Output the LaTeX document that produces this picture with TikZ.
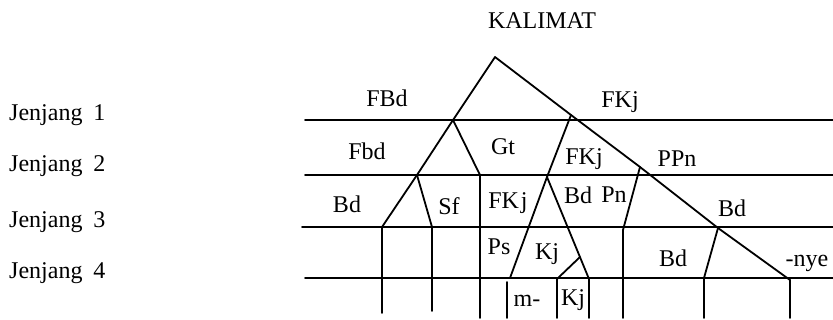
\documentclass[tikz,border=0pt]{standalone}
\usepackage{fontspec}
\setmainfont{Liberation Serif}
\begin{document}
\begin{tikzpicture}[x=1pt,y=-1pt,
  ln/.style={line width=1.8pt, line cap=round, line join=round},
  lbl/.style={anchor=base, inner sep=0pt, font=\fontsize{24}{28}\selectfont},
  lvl/.style={anchor=base west, inner sep=0pt, font=\fontsize{24}{28}\selectfont}]
\useasboundingbox (0,0) rectangle (833,320);
% title and level labels
\node[lbl] (title) at (542,29) {KALIMAT};
\node[lvl] (j1) at (9,121) {Jenjang\hspace{0.45em}1};
\node[lvl] (j2) at (9,172) {Jenjang\hspace{0.45em}2};
\node[lvl] (j3) at (9,228) {Jenjang\hspace{0.45em}3};
\node[lvl] (j4) at (9,279) {Jenjang\hspace{0.45em}4};
% horizontal level lines
\coordinate (h1a) at (305,120); \coordinate (h1b) at (833,120);
\coordinate (h2a) at (305,175); \coordinate (h2b) at (833,175);
\coordinate (h3a) at (302,227); \coordinate (h3b) at (833,227);
\coordinate (h4a) at (305,278); \coordinate (h4b) at (833,278);
\draw[ln] (h1a) -- (h1b);
\draw[ln] (h2a) -- (h2b);
\draw[ln] (h3a) -- (h3b);
\draw[ln] (h4a) -- (h4b);
% tree points
\coordinate (A) at (495,57);
\coordinate (L1) at (453,120);
\coordinate (L2) at (417,175);
\coordinate (L3) at (382,227);
\coordinate (M2) at (480,175);
\coordinate (S3) at (432,227);
\coordinate (R1) at (571,115);
\coordinate (R2) at (640,167);
\coordinate (R3) at (718,228);
\coordinate (E) at (790,280);
\coordinate (K2) at (547,177);
\coordinate (P4) at (510,278);
\coordinate (Q4) at (589,279);
\coordinate (T1) at (580,257);
\coordinate (T2) at (557,279);
\coordinate (N3) at (623,230);
\coordinate (T4) at (704,278);
\coordinate (V0) at (507,282);
% bottom ends
\coordinate (bL3) at (382,313);
\coordinate (bS3) at (432,311);
\coordinate (bM2) at (480,318);
\coordinate (bV0) at (507,318);
\coordinate (bT2) at (557,318);
\coordinate (bQ4) at (589,318);
\coordinate (bN3) at (623,318);
\coordinate (bT4) at (704,318);
\coordinate (bE) at (790,318);
% branches
\draw[ln] (L3) -- (L2) -- (L1) -- (A) -- (R1) -- (R2) -- (R3) -- (E);
\draw[ln] (L1) -- (M2);
\draw[ln] (L2) -- (S3);
\draw[ln] (R1) -- (K2) -- (P4);
\draw[ln] (K2) -- (Q4);
\draw[ln] (T1) -- (T2);
\draw[ln] (R2) -- (N3);
\draw[ln] (R3) -- (T4);
% verticals
\draw[ln] (L3) -- (bL3);
\draw[ln] (S3) -- (bS3);
\draw[ln] (M2) -- (bM2);
\draw[ln] (V0) -- (bV0);
\draw[ln] (T2) -- (bT2);
\draw[ln] (Q4) -- (bQ4);
\draw[ln] (N3) -- (bN3);
\draw[ln] (T4) -- (bT4);
\draw[ln] (E) -- (bE);
% labels
\node[lbl] (fbd1) at (387,107) {FBd};
\node[lbl] (fkj1) at (620,108) {FKj};
\node[lbl] (fbd2) at (367,160) {Fbd};
\node[lbl] (gt) at (503,155) {Gt};
\node[lbl] (fkj2) at (584,165) {FKj};
\node[lbl] (ppn) at (677,167) {PPn};
\node[lbl] (bd3a) at (347,213) {Bd};
\node[lbl] (sf) at (449,215) {Sf};
\node[lbl] (fkj3) at (508,209) {FK\hspace{0.08em}j};
\node[lbl] (bd3b) at (578,204) {Bd};
\node[lbl] (pn) at (614,203) {Pn};
\node[lbl] (bd3c) at (732,217) {Bd};
\node[lbl] (ps) at (499,255) {Ps};
\node[lbl] (kj4) at (547,260) {Kj};
\node[lbl] (bd4) at (673,267) {Bd};
\node[lbl] (nye) at (807,267) {-nye};
\node[lbl] (m) at (527,307) {m-};
\node[lbl] (kj5) at (573,306) {Kj};
\end{tikzpicture}
\end{document}
